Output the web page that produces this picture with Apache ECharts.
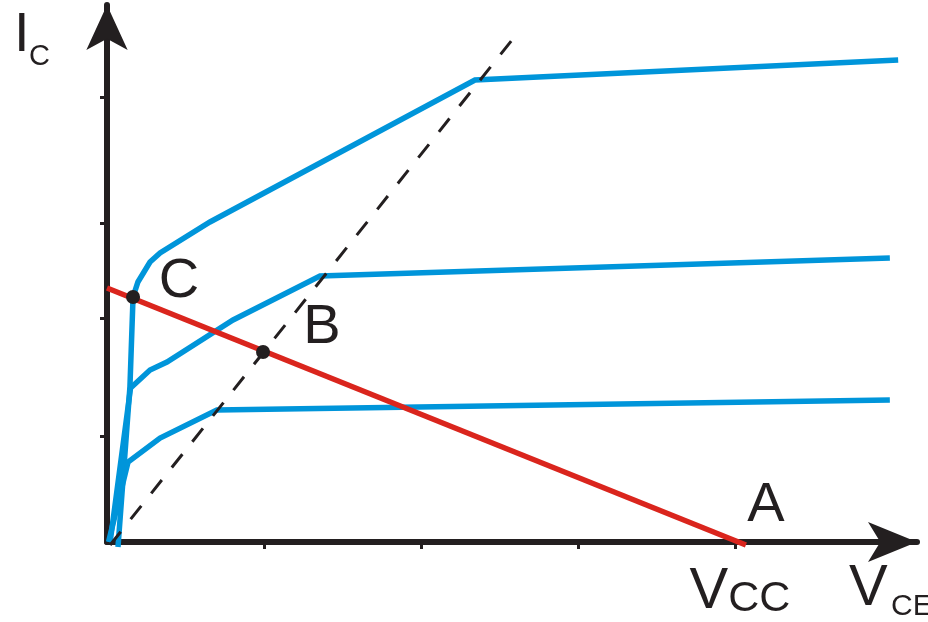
<!DOCTYPE html>
<html>
<head>
<meta charset="utf-8">
<script src="https://cdn.jsdelivr.net/npm/echarts@6/dist/echarts.min.js"></script>
<style>
  html, body { margin: 0; padding: 0; background: #fff; }
  #chart { width: 928px; height: 622px; }
</style>
</head>
<body>
<div id="chart"></div>
<script>
// transistor output characteristics, x = V_CE, y = I_C (arbitrary units)
const xTicks = [1, 2, 3, 4];
const xTickLabels = { 4: "Vcc" };
const yTicks = [4.45, 3.19, 2.24, 1.06];

// three I_B curves
const curveHigh = [[0.07, -0.05], [0.146, 1.55], [0.166, 2.45], [0.197, 2.6], [0.274, 2.8], [0.338, 2.89], [0.656, 3.2], [2.344, 4.62], [5.04, 4.82]];
const curveMid = [[0.02, 0.0], [0.15, 1.54], [0.274, 1.72], [0.382, 1.8], [0.803, 2.22], [1.357, 2.66], [4.987, 2.84]];
const curveLow = [[0.01, 0.0], [0.134, 0.8], [0.338, 1.04], [0.7, 1.32], [4.987, 1.42]];

// saturation boundary (dashed) and load line (red)
const satLine = [[0.02, -0.03], [2.58, 5.02]];
const loadLine = [[0, 2.54], [4.07, -0.03]];

// operating points
const pointNames = ["C", "B"];
const pointValues = [[0.166, 2.45], [0.994, 1.9]];
const cutoffName = "A";
const cutoffValue = [4, 0];

const black = "#231F20";
const blue = "#0095DA";
const red = "#DA251D";
const font = "Liberation Sans, Arial, sans-serif";

let myChart = echarts.init(document.getElementById("chart"));

function curve(data) {
  return {
    type: "line",
    data: data,
    symbol: "none",
    clip: false,
    z: 3,
    lineStyle: { color: blue, width: 5.5, join: "miter" }
  };
}

let bigLabel = {
  show: true,
  position: "inside",
  color: black,
  opacity: 1,
  fontFamily: font,
  fontSize: 56,
  fontWeight: "normal",
  formatter: "{b}"
};
let labelOffsets = [[46, -15], [59, -24]];

let option = {
  animation: false,
  backgroundColor: "#fff",
  grid: { left: 107, right: 11, top: 5, bottom: 80 },
  xAxis: {
    type: "value",
    min: 0,
    max: 5.16,
    splitLine: { show: false },
    axisLine: {
      onZero: false,
      symbol: ["none", "arrow"],
      symbolSize: [30, 49],
      lineStyle: { color: black, width: 6 }
    },
    axisTick: {
      show: true,
      customValues: xTicks,
      length: 7,
      lineStyle: { color: black, width: 3 }
    },
    axisLabel: {
      show: true,
      customValues: [4],
      margin: 21,
      padding: [0, 0, 0, 10],
      formatter: function (v) {
        let t = xTickLabels[v] || "";
        return t ? "{v|" + t.charAt(0) + "}{c|" + t.slice(1).toUpperCase() + "}" : "";
      },
      rich: {
        v: { fontFamily: font, fontSize: 58, color: black, lineHeight: 58, verticalAlign: "bottom" },
        c: { fontFamily: font, fontSize: 43, color: black, lineHeight: 43, verticalAlign: "bottom" }
      }
    }
  },
  yAxis: {
    type: "value",
    min: 0,
    max: 5.37,
    splitLine: { show: false },
    axisLine: {
      onZero: false,
      symbol: ["none", "arrow"],
      symbolSize: [31, 45],
      lineStyle: { color: black, width: 6 }
    },
    axisTick: {
      show: true,
      customValues: yTicks,
      length: 7,
      lineStyle: { color: black, width: 3 }
    },
    axisLabel: { show: false }
  },
  graphic: [
    { type: "text", left: 14, top: 8, style: { text: "I", font: "56px " + font, fill: black } },
    { type: "text", left: 29, top: 42, style: { text: "C", font: "29px " + font, fill: black } },
    { type: "text", left: 849, top: 560, style: { text: "V", font: "58px " + font, fill: black } },
    { type: "text", left: 891, top: 592, style: { text: "CE", font: "30px " + font, fill: black } }
  ],
  series: [
    curve(curveHigh),
    curve(curveMid),
    curve(curveLow),
    {
      type: "line",
      data: satLine,
      symbol: "none",
      clip: false,
      z: 4,
      lineStyle: { color: black, width: 3, type: [17, 16] }
    },
    {
      type: "line",
      data: loadLine,
      symbol: "none",
      clip: false,
      z: 5,
      lineStyle: { color: red, width: 5.5 }
    },
    {
      type: "scatter",
      clip: false,
      z: 6,
      symbolSize: 14,
      itemStyle: { color: black, opacity: 1 },
      data: pointValues.map(function (v, i) {
        return {
          name: pointNames[i],
          value: v,
          label: Object.assign({}, bigLabel, { offset: labelOffsets[i] })
        };
      })
    },
    {
      type: "scatter",
      clip: false,
      z: 6,
      symbolSize: 1,
      itemStyle: { color: "rgba(0,0,0,0)" },
      data: [{ name: cutoffName, value: cutoffValue }],
      label: Object.assign({}, bigLabel, { offset: [31, -36] })
    }
  ]
};

myChart.setOption(option);
window.addEventListener("resize", function () { myChart.resize(); });
</script>
</body>
</html>
